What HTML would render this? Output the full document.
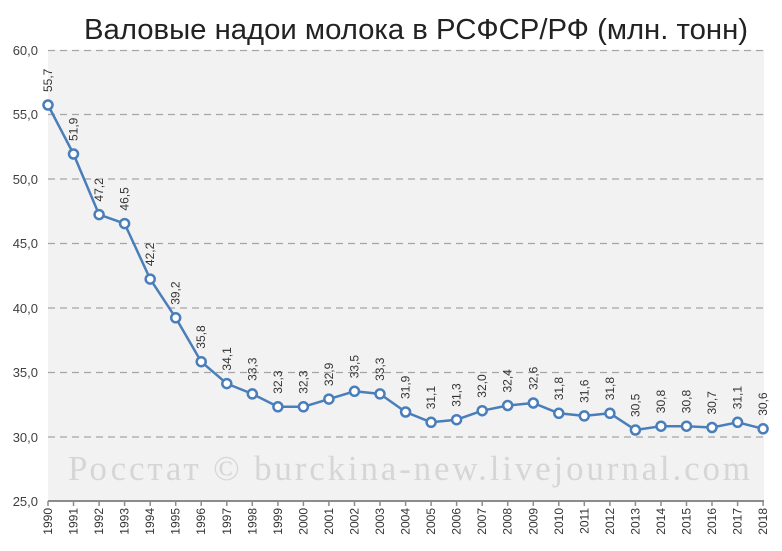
<!DOCTYPE html>
<html><head><meta charset="utf-8"><style>
body{margin:0;background:#fff}
svg{display:block}
.v{font:12px "Liberation Sans",sans-serif;fill:#333}
</style></head><body>
<svg width="782" height="551" xmlns="http://www.w3.org/2000/svg">
<rect x="48" y="50" width="716" height="451" fill="#f2f2f2"/>
<text x="84" y="39" font-family="Liberation Sans,sans-serif" font-size="29" fill="#222" textLength="664" lengthAdjust="spacingAndGlyphs">Валовые надои молока в РСФСР/РФ (млн. тонн)</text>
<text x="68" y="480" font-family="Liberation Serif,serif" font-size="35" fill="#d6d6d6" textLength="682">Росстат © burckina-new.livejournal.com</text>
<g stroke="#a6a6a6" stroke-dasharray="7,5" stroke-width="1.3">
<line x1="48" x2="764" y1="50.5" y2="50.5"/><line x1="48" x2="764" y1="114.5" y2="114.5"/><line x1="48" x2="764" y1="179" y2="179"/><line x1="48" x2="764" y1="243.5" y2="243.5"/><line x1="48" x2="764" y1="308" y2="308"/><line x1="48" x2="764" y1="372.5" y2="372.5"/><line x1="48" x2="764" y1="437" y2="437"/>
</g>
<line x1="48" x2="764" y1="501" y2="501" stroke="#8c8c8c" stroke-width="2"/>
<g font-family="Liberation Sans,sans-serif" font-size="13" fill="#404040" text-anchor="end">
<text x="38" y="55">60,0</text><text x="38" y="119">55,0</text><text x="38" y="184">50,0</text><text x="38" y="248">45,0</text><text x="38" y="313">40,0</text><text x="38" y="377">35,0</text><text x="38" y="442">30,0</text><text x="38" y="506">25,0</text>
</g>
<g stroke="#8c8c8c" stroke-width="1.5">
<line x1="48" x2="48" y1="501" y2="506"/><line x1="73.5" x2="73.5" y1="501" y2="506"/><line x1="99.1" x2="99.1" y1="501" y2="506"/><line x1="124.6" x2="124.6" y1="501" y2="506"/><line x1="150.2" x2="150.2" y1="501" y2="506"/><line x1="175.7" x2="175.7" y1="501" y2="506"/><line x1="201.2" x2="201.2" y1="501" y2="506"/><line x1="226.8" x2="226.8" y1="501" y2="506"/><line x1="252.3" x2="252.3" y1="501" y2="506"/><line x1="277.9" x2="277.9" y1="501" y2="506"/><line x1="303.4" x2="303.4" y1="501" y2="506"/><line x1="328.9" x2="328.9" y1="501" y2="506"/><line x1="354.5" x2="354.5" y1="501" y2="506"/><line x1="380" x2="380" y1="501" y2="506"/><line x1="405.6" x2="405.6" y1="501" y2="506"/><line x1="431.1" x2="431.1" y1="501" y2="506"/><line x1="456.6" x2="456.6" y1="501" y2="506"/><line x1="482.2" x2="482.2" y1="501" y2="506"/><line x1="507.7" x2="507.7" y1="501" y2="506"/><line x1="533.3" x2="533.3" y1="501" y2="506"/><line x1="558.8" x2="558.8" y1="501" y2="506"/><line x1="584.3" x2="584.3" y1="501" y2="506"/><line x1="609.9" x2="609.9" y1="501" y2="506"/><line x1="635.4" x2="635.4" y1="501" y2="506"/><line x1="661" x2="661" y1="501" y2="506"/><line x1="686.5" x2="686.5" y1="501" y2="506"/><line x1="712" x2="712" y1="501" y2="506"/><line x1="737.6" x2="737.6" y1="501" y2="506"/><line x1="763.1" x2="763.1" y1="501" y2="506"/>
</g>
<g class="v" text-anchor="end">
<text transform="translate(52,508) rotate(-90)">1990</text><text transform="translate(77.5,508) rotate(-90)">1991</text><text transform="translate(103.1,508) rotate(-90)">1992</text><text transform="translate(128.6,508) rotate(-90)">1993</text><text transform="translate(154.2,508) rotate(-90)">1994</text><text transform="translate(179.7,508) rotate(-90)">1995</text><text transform="translate(205.2,508) rotate(-90)">1996</text><text transform="translate(230.8,508) rotate(-90)">1997</text><text transform="translate(256.3,508) rotate(-90)">1998</text><text transform="translate(281.9,508) rotate(-90)">1999</text><text transform="translate(307.4,508) rotate(-90)">2000</text><text transform="translate(332.9,508) rotate(-90)">2001</text><text transform="translate(358.5,508) rotate(-90)">2002</text><text transform="translate(384,508) rotate(-90)">2003</text><text transform="translate(409.6,508) rotate(-90)">2004</text><text transform="translate(435.1,508) rotate(-90)">2005</text><text transform="translate(460.6,508) rotate(-90)">2006</text><text transform="translate(486.2,508) rotate(-90)">2007</text><text transform="translate(511.7,508) rotate(-90)">2008</text><text transform="translate(537.3,508) rotate(-90)">2009</text><text transform="translate(562.8,508) rotate(-90)">2010</text><text transform="translate(588.3,508) rotate(-90)">2011</text><text transform="translate(613.9,508) rotate(-90)">2012</text><text transform="translate(639.4,508) rotate(-90)">2013</text><text transform="translate(665,508) rotate(-90)">2014</text><text transform="translate(690.5,508) rotate(-90)">2015</text><text transform="translate(716,508) rotate(-90)">2016</text><text transform="translate(741.6,508) rotate(-90)">2017</text><text transform="translate(767.1,508) rotate(-90)">2018</text>
</g>
<polyline fill="none" stroke="#4a7ebb" stroke-width="2.5" stroke-linejoin="round" points="48,105 73.5,154 99.1,214.6 124.6,223.6 150.2,279.1 175.7,317.8 201.2,361.7 226.8,383.6 252.3,393.9 277.9,406.8 303.4,406.8 328.9,399.1 354.5,391.3 380,393.9 405.6,412 431.1,422.3 456.6,419.7 482.2,410.7 507.7,405.5 533.3,403 558.8,413.3 584.3,415.9 609.9,413.3 635.4,430 661,426.2 686.5,426.2 712,427.5 737.6,422.3 763.1,428.8"/>
<g fill="#fff" stroke="#4a7ebb" stroke-width="2.5">
<circle cx="48" cy="105" r="4.5"/><circle cx="73.5" cy="154" r="4.5"/><circle cx="99.1" cy="214.6" r="4.5"/><circle cx="124.6" cy="223.6" r="4.5"/><circle cx="150.2" cy="279.1" r="4.5"/><circle cx="175.7" cy="317.8" r="4.5"/><circle cx="201.2" cy="361.7" r="4.5"/><circle cx="226.8" cy="383.6" r="4.5"/><circle cx="252.3" cy="393.9" r="4.5"/><circle cx="277.9" cy="406.8" r="4.5"/><circle cx="303.4" cy="406.8" r="4.5"/><circle cx="328.9" cy="399.1" r="4.5"/><circle cx="354.5" cy="391.3" r="4.5"/><circle cx="380" cy="393.9" r="4.5"/><circle cx="405.6" cy="412" r="4.5"/><circle cx="431.1" cy="422.3" r="4.5"/><circle cx="456.6" cy="419.7" r="4.5"/><circle cx="482.2" cy="410.7" r="4.5"/><circle cx="507.7" cy="405.5" r="4.5"/><circle cx="533.3" cy="403" r="4.5"/><circle cx="558.8" cy="413.3" r="4.5"/><circle cx="584.3" cy="415.9" r="4.5"/><circle cx="609.9" cy="413.3" r="4.5"/><circle cx="635.4" cy="430" r="4.5"/><circle cx="661" cy="426.2" r="4.5"/><circle cx="686.5" cy="426.2" r="4.5"/><circle cx="712" cy="427.5" r="4.5"/><circle cx="737.6" cy="422.3" r="4.5"/><circle cx="763.1" cy="428.8" r="4.5"/>
</g>
<g class="v">
<text transform="translate(52,92) rotate(-90)">55,7</text><text transform="translate(77.5,141) rotate(-90)">51,9</text><text transform="translate(103.1,201.6) rotate(-90)">47,2</text><text transform="translate(128.6,210.6) rotate(-90)">46,5</text><text transform="translate(154.2,266.1) rotate(-90)">42,2</text><text transform="translate(179.7,304.8) rotate(-90)">39,2</text><text transform="translate(205.2,348.7) rotate(-90)">35,8</text><text transform="translate(230.8,370.6) rotate(-90)">34,1</text><text transform="translate(256.3,380.9) rotate(-90)">33,3</text><text transform="translate(281.9,393.8) rotate(-90)">32,3</text><text transform="translate(307.4,393.8) rotate(-90)">32,3</text><text transform="translate(332.9,386.1) rotate(-90)">32,9</text><text transform="translate(358.5,378.3) rotate(-90)">33,5</text><text transform="translate(384,380.9) rotate(-90)">33,3</text><text transform="translate(409.6,399) rotate(-90)">31,9</text><text transform="translate(435.1,409.3) rotate(-90)">31,1</text><text transform="translate(460.6,406.7) rotate(-90)">31,3</text><text transform="translate(486.2,397.7) rotate(-90)">32,0</text><text transform="translate(511.7,392.5) rotate(-90)">32,4</text><text transform="translate(537.3,390) rotate(-90)">32,6</text><text transform="translate(562.8,400.3) rotate(-90)">31,8</text><text transform="translate(588.3,402.9) rotate(-90)">31,6</text><text transform="translate(613.9,400.3) rotate(-90)">31,8</text><text transform="translate(639.4,417) rotate(-90)">30,5</text><text transform="translate(665,413.2) rotate(-90)">30,8</text><text transform="translate(690.5,413.2) rotate(-90)">30,8</text><text transform="translate(716,414.5) rotate(-90)">30,7</text><text transform="translate(741.6,409.3) rotate(-90)">31,1</text><text transform="translate(767.1,415.8) rotate(-90)">30,6</text>
</g>
</svg>
</body></html>
